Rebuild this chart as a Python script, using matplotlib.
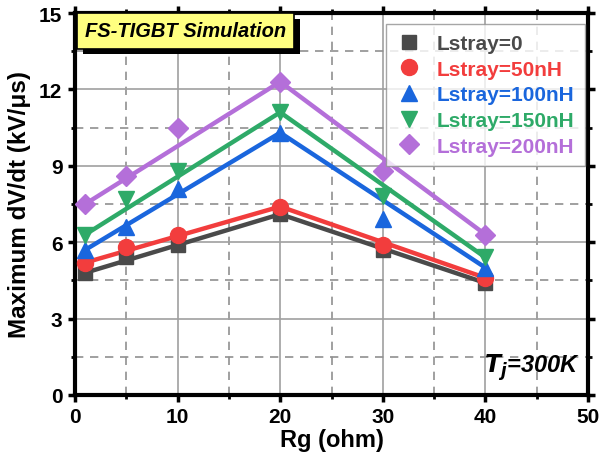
import numpy as np
import matplotlib.pyplot as plt
from matplotlib.ticker import MultipleLocator
import matplotlib.patheffects as pe

plt.rcParams['font.family'] = ['Liberation Sans', 'DejaVu Sans']
plt.rcParams['font.weight'] = 'bold'

rg = [1, 5, 10, 20, 30, 40]
labels = ['Lstray=0', 'Lstray=50nH', 'Lstray=100nH', 'Lstray=150nH', 'Lstray=200nH']
dvdt_0 = [4.8, 5.4, 5.9, 7.1, 5.7, 4.4]
dvdt_50 = [5.2, 5.8, 6.3, 7.4, 5.9, 4.6]
dvdt_100 = [5.7, 6.6, 8.1, 10.3, 6.9, 5.0]
dvdt_150 = [6.3, 7.7, 8.8, 11.1, 7.8, 5.4]
dvdt_200 = [7.5, 8.6, 10.5, 12.3, 8.8, 6.3]
# the guide lines only join the end points and the peak
line_idx = [0, 3, 5]

series = [dvdt_0, dvdt_50, dvdt_100, dvdt_150, dvdt_200]
colors = ['#4a4a4a', '#f23d3d', '#1a66dd', '#2eaa68', '#b46fd9']
markers = ['s', 'o', '^', 'v', 'D']
msizes = [10.5, 11.5, 11.5, 11.5, 10.5]

fig = plt.figure(figsize=(6.01, 4.60), dpi=100)
ax = fig.add_axes([75 / 601, 1 - 396 / 460, 513 / 601, 382 / 460])

x = np.array(rg)
for y, c, m, ms, lab in zip(series, colors, markers, msizes, labels):
    y = np.array(y)
    ax.plot(x[line_idx], y[line_idx], '-', color=c, lw=3.2, zorder=3)
    ax.plot(x, y, linestyle='none', marker=m, ms=ms, color=c, label=lab, zorder=4)

ax.set_xlim(0, 50)
ax.set_ylim(0, 15)
ax.xaxis.set_major_locator(MultipleLocator(10))
ax.xaxis.set_minor_locator(MultipleLocator(5))
ax.yaxis.set_major_locator(MultipleLocator(3))
ax.yaxis.set_minor_locator(MultipleLocator(1.5))
ax.grid(which='major', color='#a0a0a0', lw=1.2, ls='-', zorder=0)
ax.grid(which='minor', color='#909090', lw=1.2, ls=(0, (5, 4)), zorder=0)
ax.tick_params(which='major', direction='out', length=5, width=2.5, labelsize=15,
               top=True, right=True, pad=4)
ax.tick_params(which='minor', direction='out', length=3, width=2, top=True, right=True)
for s in ax.spines.values():
    s.set_linewidth(3)

ax.set_xlabel('Rg (ohm)', fontsize=17, fontweight='bold', labelpad=1)
ax.set_ylabel('Maximum dV/dt (kV/μs)', fontsize=17.5, fontweight='bold', labelpad=6)

leg = ax.legend(loc='upper right', fontsize=15, frameon=True, fancybox=False,
                edgecolor='#909090', borderpad=0.5, labelspacing=0.32,
                handletextpad=0.75, handlelength=1.2, borderaxespad=0,
                bbox_to_anchor=(0.994, 0.972))
leg.get_frame().set_linewidth(1.0)
for t, c in zip(leg.get_texts(), colors):
    t.set_color(c)

ax.text(0.02, 0.953, 'FS-TIGBT Simulation', transform=ax.transAxes, fontsize=14.5,
        fontweight='bold', fontstyle='italic', va='center', ha='left', zorder=6,
        bbox=dict(boxstyle='square,pad=0.4', fc='#ffff80', ec='black', lw=1.2,
                  path_effects=[pe.withSimplePatchShadow(offset=(4, -4), shadow_rgbFace='black', alpha=1)]))

ax.text(0.985, 0.035, r'$\mathbf{\mathit{T_j}}$' + '=300K', transform=ax.transAxes,
        fontsize=17, fontweight='bold', fontstyle='italic', ha='right', va='bottom')

fig.savefig('out.png', dpi=100)
